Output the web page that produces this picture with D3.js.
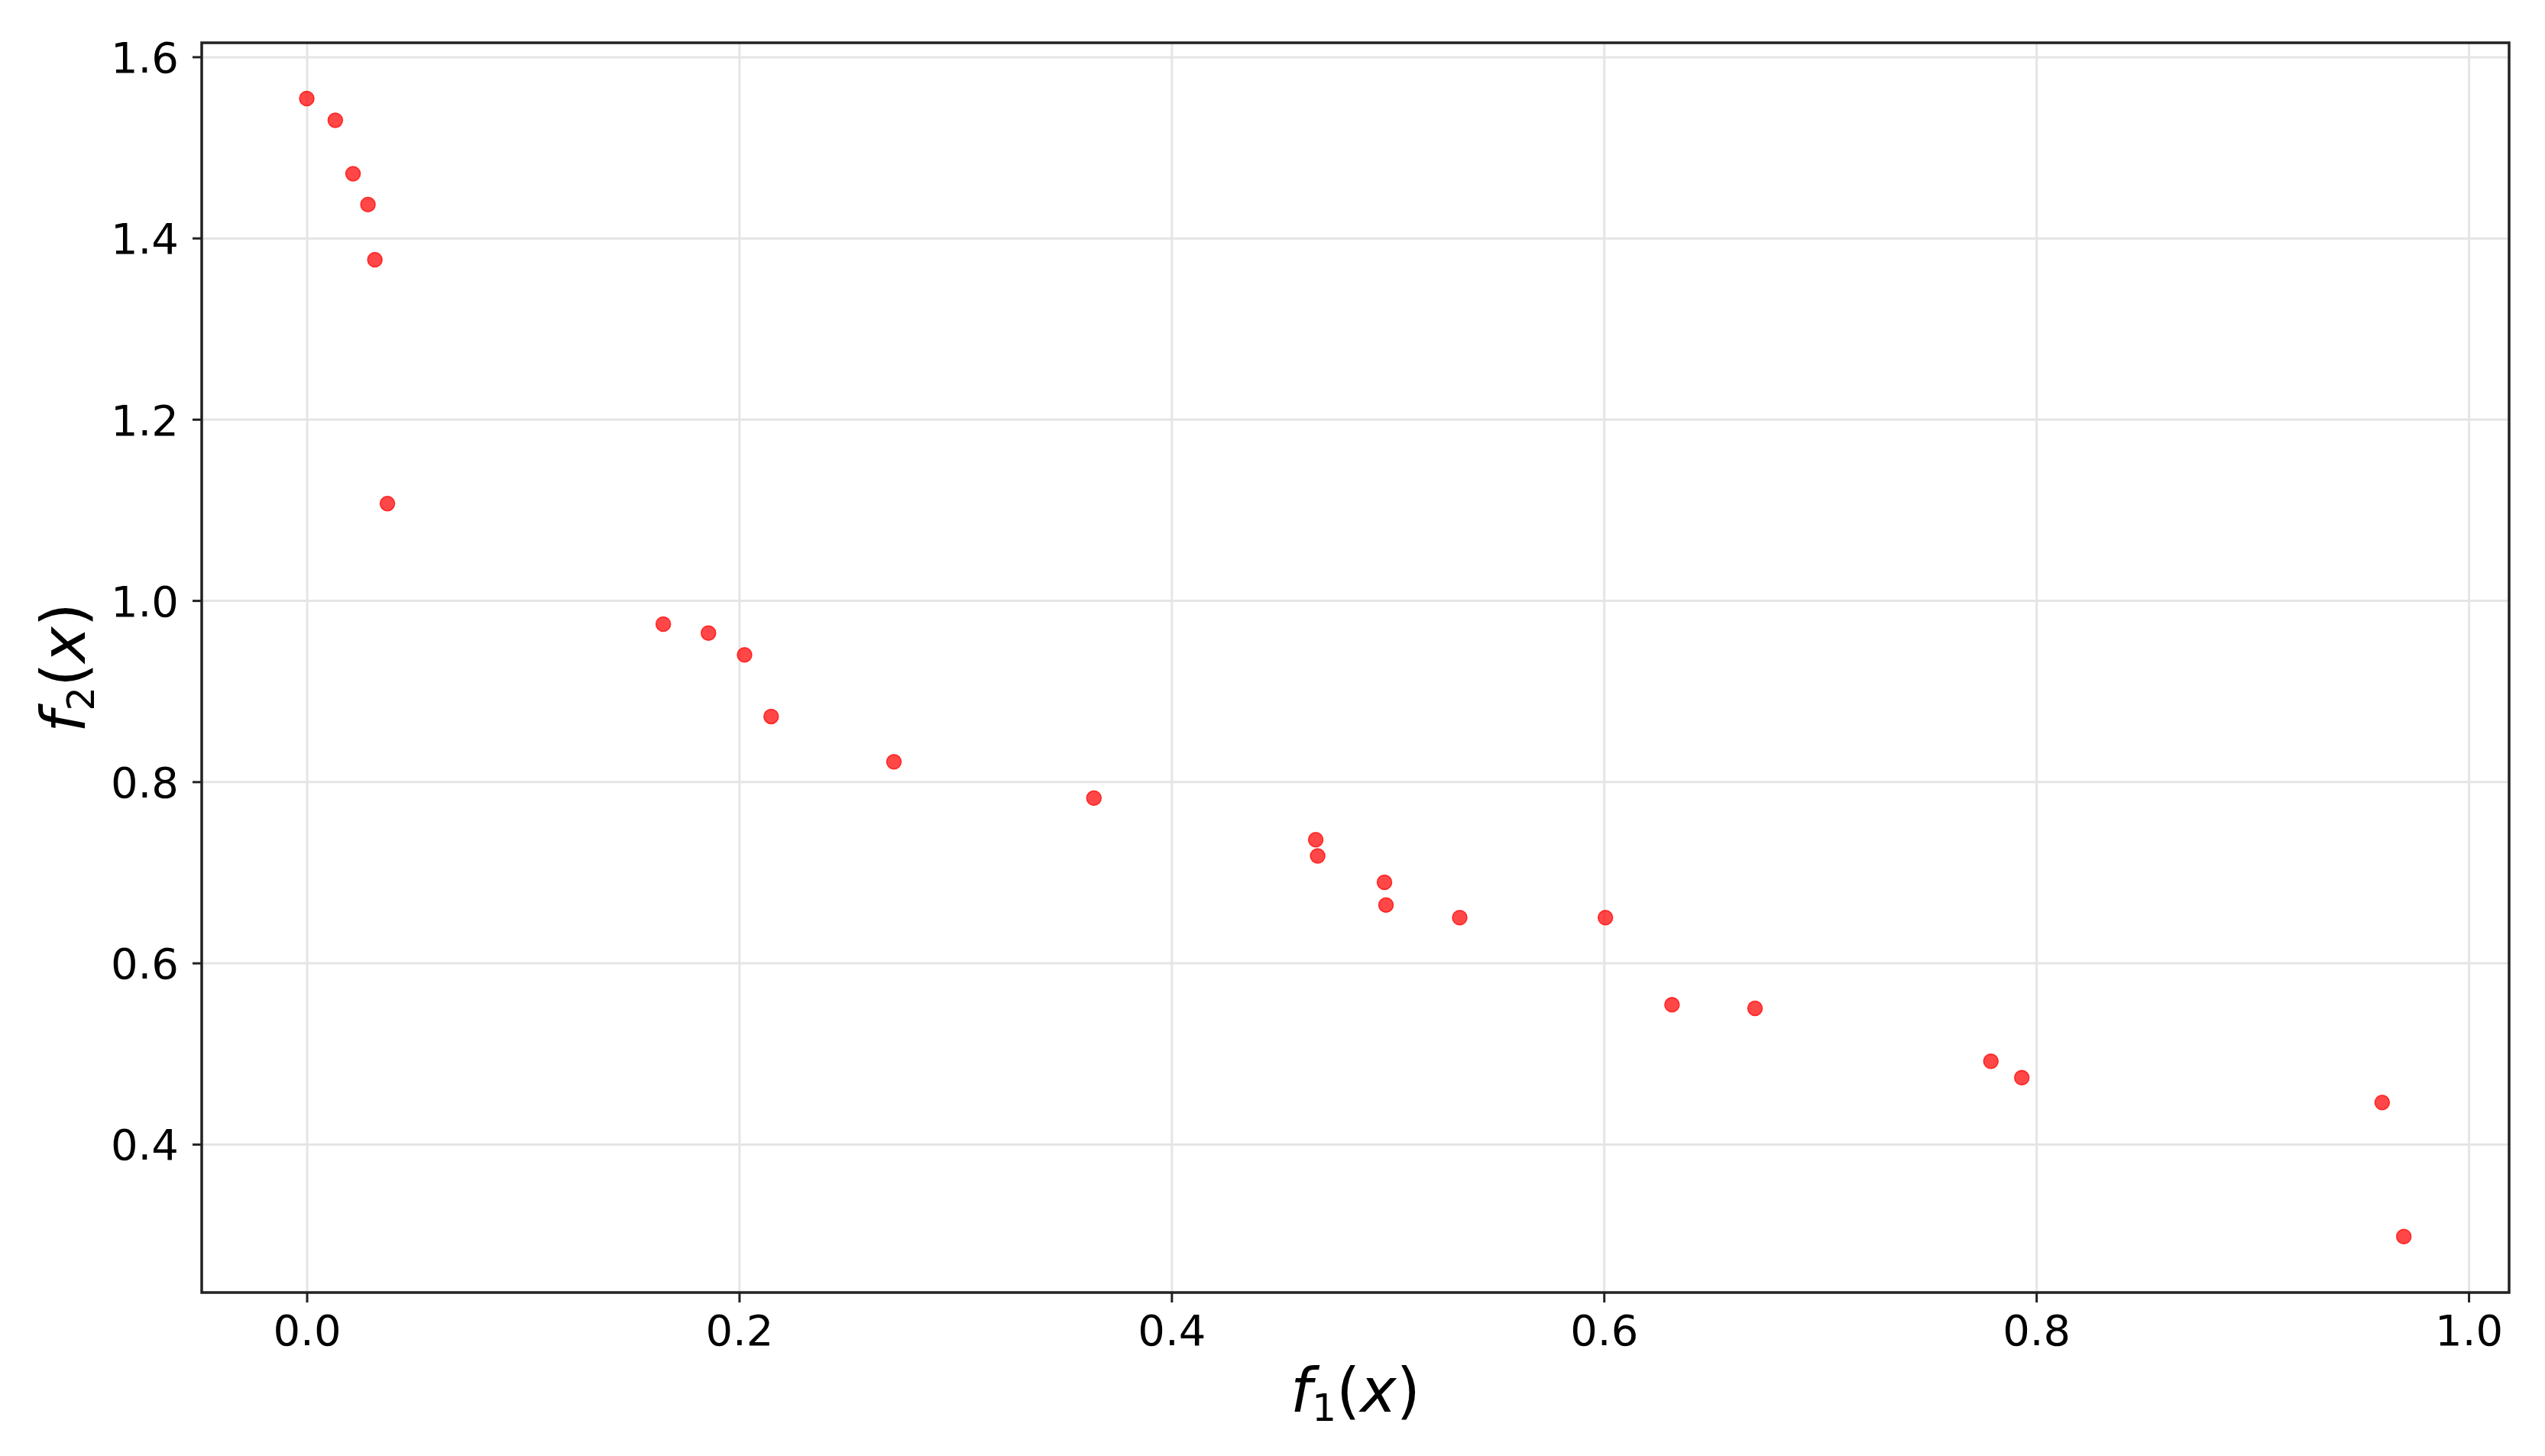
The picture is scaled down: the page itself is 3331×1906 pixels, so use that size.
<!DOCTYPE html>
<html lang="en">
<head>
    <meta charset="utf-8">
    <title>f1 / f2 scatter</title>
    <script src="https://cdn.jsdelivr.net/npm/d3@7"></script>
    <style>
        body { margin: 0; background: #fff; }
        .tick text { font-family: "DejaVu Sans", sans-serif; fill: #000; }
        .label { font-family: "DejaVu Sans", sans-serif; fill: #000; }
    </style>
</head>
<body>
<div id="chart"></div>
<script>
    // values
    const f1Values = [0.0, 0.0132, 0.0214, 0.0283, 0.0315, 0.0373, 0.1649, 0.1858, 0.2025, 0.2148, 0.2716, 0.3641,
        0.4667, 0.4676, 0.4985, 0.4992, 0.5333, 0.6007, 0.6315, 0.6699, 0.779, 0.7933, 0.960, 0.970];
    const f2Values = [1.554, 1.530, 1.471, 1.437, 1.376, 1.107, 0.974, 0.964, 0.940, 0.872, 0.822, 0.782,
        0.736, 0.718, 0.689, 0.664, 0.650, 0.650, 0.554, 0.550, 0.4915, 0.4733, 0.446, 0.298];
    const xTicks = [0.0, 0.2, 0.4, 0.6, 0.8, 1.0];
    const yTicks = [0.4, 0.6, 0.8, 1.0, 1.2, 1.4, 1.6];

    const width = 3331, height = 1906;
    const margin = {top: 56, right: 47, bottom: 214, left: 264};
    const w = width - margin.left - margin.right;
    const h = height - margin.top - margin.bottom;

    const points = f1Values.map((v, i) => ({x: v, y: f2Values[i]}));

    const svg = d3.select("#chart").append("svg")
        .attr("width", width)
        .attr("height", height);

    const g = svg.append("g")
        .attr("transform", `translate(${margin.left},${margin.top})`);

    const x = d3.scaleLinear().domain([-0.0486, 1.0187]).range([0, w]);
    const y = d3.scaleLinear().domain([0.2363, 1.6155]).range([h, 0]);

    // grid
    g.append("g")
        .attr("class", "grid")
        .attr("transform", `translate(0,${h})`)
        .call(d3.axisBottom(x).tickValues(xTicks).tickSize(-h).tickFormat(""));
    g.append("g")
        .attr("class", "grid")
        .call(d3.axisLeft(y).tickValues(yTicks).tickSize(-w).tickFormat(""));
    g.selectAll(".grid .domain").remove();
    g.selectAll(".grid line").attr("stroke", "#e5e5e5").attr("stroke-width", 3);

    // points
    g.append("g")
        .selectAll("circle")
        .data(points)
        .enter().append("circle")
        .attr("cx", d => x(d.x))
        .attr("cy", d => y(d.y))
        .attr("r", 9.5)
        .attr("fill", "red")
        .attr("fill-opacity", 0.72)
        .attr("stroke", "red")
        .attr("stroke-opacity", 0.75)
        .attr("stroke-width", 1.5);

    // axes
    const xAxis = g.append("g")
        .attr("transform", `translate(0,${h})`)
        .call(d3.axisBottom(x).tickValues(xTicks).tickSize(13).tickPadding(16).tickFormat(d3.format(".1f")));
    const yAxis = g.append("g")
        .call(d3.axisLeft(y).tickValues(yTicks).tickSize(12).tickPadding(18).tickFormat(d3.format(".1f")));
    [xAxis, yAxis].forEach(a => {
        a.select(".domain").remove();
        a.selectAll(".tick line").attr("stroke", "#222").attr("stroke-width", 3);
        a.selectAll(".tick text").style("font-size", "56px");
    });
    yAxis.selectAll(".tick text").attr("dy", "0.36em");

    // frame
    g.append("rect")
        .attr("width", w)
        .attr("height", h)
        .attr("fill", "none")
        .attr("stroke", "#222")
        .attr("stroke-width", 3.5);

    // axis labels
    const xl = svg.append("text")
        .attr("class", "label")
        .attr("x", margin.left + w / 2)
        .attr("y", 1848)
        .attr("text-anchor", "middle")
        .style("font-size", "80px");
    xl.append("tspan").style("font-style", "italic").text("f");
    xl.append("tspan").attr("dy", 12).style("font-size", "50px").text("1");
    xl.append("tspan").attr("dy", -12).text("(");
    xl.append("tspan").style("font-style", "italic").text("x");
    xl.append("tspan").text(")");

    const yl = svg.append("text")
        .attr("class", "label")
        .attr("transform", `translate(111,${margin.top + h / 2}) rotate(-90)`)
        .attr("text-anchor", "middle")
        .style("font-size", "80px");
    yl.append("tspan").style("font-style", "italic").text("f");
    yl.append("tspan").attr("dy", 12).style("font-size", "50px").text("2");
    yl.append("tspan").attr("dy", -12).text("(");
    yl.append("tspan").style("font-style", "italic").text("x");
    yl.append("tspan").text(")");
</script>
</body>
</html>
